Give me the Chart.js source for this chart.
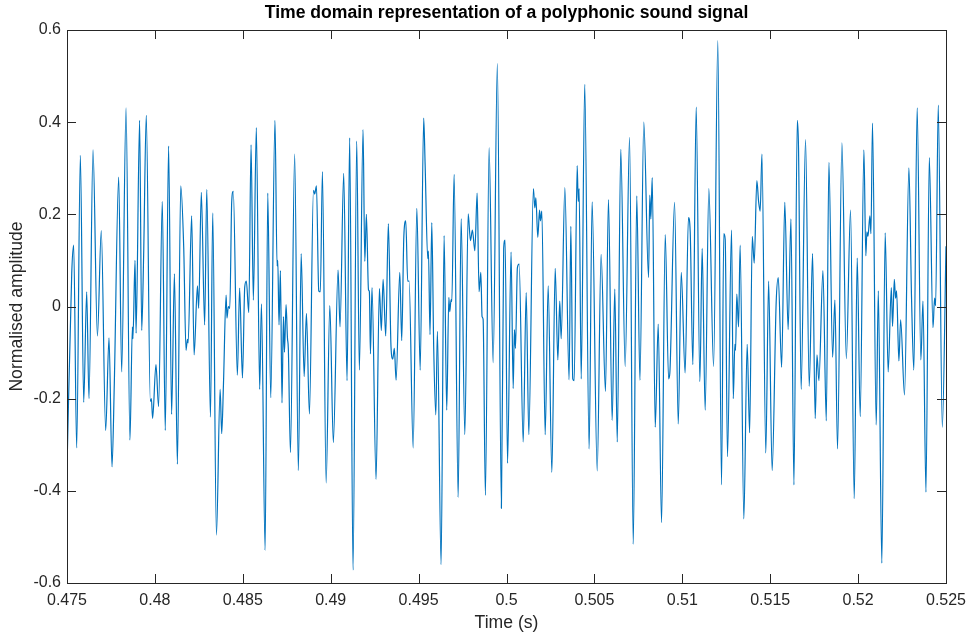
<!DOCTYPE html>
<html>
<head>
<meta charset="utf-8">
<script src="https://cdn.jsdelivr.net/npm/chart.js@4/dist/chart.umd.min.js"></script>
<style>
  html, body { margin: 0; padding: 0; background: #fff; }
  #wrap { width: 969px; height: 634px; }
</style>
</head>
<body>
<div id="wrap"><canvas id="sinal" width="969" height="634"></canvas></div>
<script>
// turning points (time in s, normalised amplitude)
const times = [
    0.47500, 0.47527, 0.47538, 0.47555, 0.47576, 0.47595, 0.47612, 0.47625, 0.47648, 0.47673,
    0.47695, 0.47720, 0.47739, 0.47756, 0.47769, 0.47794, 0.47811, 0.47836, 0.47858, 0.47872,
    0.47875, 0.47887, 0.47893, 0.47913, 0.47925, 0.47936, 0.47951, 0.47974, 0.47980, 0.47987,
    0.48006, 0.48021, 0.48042, 0.48059, 0.48078, 0.48095, 0.48111, 0.48128, 0.48147, 0.48164,
    0.48177, 0.48185, 0.48189, 0.48209, 0.48223, 0.48242, 0.48249, 0.48264, 0.48283, 0.48295,
    0.48316, 0.48329, 0.48350, 0.48371, 0.48380, 0.48390, 0.48405, 0.48410, 0.48418, 0.48426,
    0.48437, 0.48446, 0.48469, 0.48482, 0.48498, 0.48511, 0.48520, 0.48534, 0.48547, 0.48560,
    0.48577, 0.48596, 0.48606, 0.48627, 0.48642, 0.48659, 0.48683, 0.48695, 0.48699, 0.48706,
    0.48714, 0.48723, 0.48731, 0.48737, 0.48746, 0.48754, 0.48759, 0.48771, 0.48795, 0.48816,
    0.48832, 0.48849, 0.48862, 0.48879, 0.48902, 0.48909, 0.48919, 0.48932, 0.48941, 0.48953,
    0.48974, 0.48995, 0.49015, 0.49042, 0.49053, 0.49074, 0.49093, 0.49108, 0.49127, 0.49148,
    0.49163, 0.49184, 0.49194, 0.49203, 0.49215, 0.49220, 0.49226, 0.49235, 0.49258, 0.49277,
    0.49288, 0.49298, 0.49313, 0.49328, 0.49343, 0.49353, 0.49362, 0.49372, 0.49393, 0.49404,
    0.49416, 0.49427, 0.49438, 0.49446, 0.49469, 0.49490, 0.49509, 0.49529, 0.49537, 0.49552,
    0.49556, 0.49565, 0.49575, 0.49586, 0.49598, 0.49607, 0.49628, 0.49645, 0.49660, 0.49672,
    0.49677, 0.49685, 0.49689, 0.49702, 0.49725, 0.49742, 0.49763, 0.49782, 0.49795, 0.49806,
    0.49820, 0.49833, 0.49844, 0.49854, 0.49861, 0.49867, 0.49880, 0.49901, 0.49924, 0.49948,
    0.49971, 0.49984, 0.49992, 0.50006, 0.50026, 0.50038, 0.50045, 0.50051, 0.50062, 0.50072,
    0.50095, 0.50112, 0.50127, 0.50153, 0.50161, 0.50167, 0.50178, 0.50188, 0.50193, 0.50201,
    0.50220, 0.50237, 0.50258, 0.50277, 0.50292, 0.50303, 0.50311, 0.50332, 0.50356, 0.50366,
    0.50377, 0.50385, 0.50402, 0.50408, 0.50413, 0.50425, 0.50445, 0.50470, 0.50487, 0.50516,
    0.50538, 0.50563, 0.50580, 0.50601, 0.50616, 0.50630, 0.50650, 0.50675, 0.50700, 0.50721,
    0.50741, 0.50759, 0.50781, 0.50808, 0.50815, 0.50821, 0.50829, 0.50846, 0.50863, 0.50882,
    0.50903, 0.50922, 0.50929, 0.50956, 0.50977, 0.50994, 0.51016, 0.51035, 0.51045, 0.51060,
    0.51079, 0.51100, 0.51113, 0.51130, 0.51151, 0.51178, 0.51202, 0.51223, 0.51236, 0.51244,
    0.51257, 0.51280, 0.51290, 0.51299, 0.51303, 0.51310, 0.51320, 0.51329, 0.51350, 0.51369,
    0.51383, 0.51398, 0.51409, 0.51424, 0.51434, 0.51443, 0.51453, 0.51475, 0.51491, 0.51511,
    0.51534, 0.51546, 0.51565, 0.51583, 0.51602, 0.51618, 0.51635, 0.51654, 0.51661, 0.51676,
    0.51701, 0.51722, 0.51741, 0.51756, 0.51766, 0.51777, 0.51800, 0.51819, 0.51834, 0.51855,
    0.51868, 0.51883, 0.51908, 0.51933, 0.51957, 0.51978, 0.51995, 0.52012, 0.52033, 0.52044,
    0.52050, 0.52056, 0.52067, 0.52073, 0.52082, 0.52103, 0.52115, 0.52135, 0.52154, 0.52171,
    0.52189, 0.52196, 0.52206, 0.52213, 0.52219, 0.52232, 0.52242, 0.52264, 0.52289, 0.52304,
    0.52317, 0.52336, 0.52357, 0.52369, 0.52386, 0.52405, 0.52426, 0.52435, 0.52441, 0.52456,
    0.52479, 0.52500
];

const amplitude = [
    -0.352, 0.073, 0.133, -0.307, 0.328, -0.208, 0.032, -0.200, 0.340, -0.064,
    0.165, -0.269, -0.068, -0.348, -0.169, 0.281, -0.142, 0.431, -0.290, -0.044,
    -0.070, 0.100, -0.058, 0.404, -0.052, 0.112, 0.415, -0.206, -0.200, -0.243,
    -0.126, -0.217, 0.228, -0.269, 0.348, -0.234, 0.071, -0.342, 0.262, 0.127,
    -0.095, -0.071, -0.079, 0.197, -0.105, 0.045, -0.004, 0.248, -0.040, 0.254,
    -0.240, 0.203, -0.496, -0.180, -0.276, -0.169, 0.025, -0.025, 0.000, -0.004,
    0.228, 0.250, -0.149, 0.040, -0.155, 0.042, 0.055, -0.013, 0.351, 0.014,
    0.388, -0.180, 0.006, -0.529, 0.246, -0.198, 0.404, 0.088, 0.100, -0.040,
    0.078, -0.209, -0.022, -0.099, 0.004, -0.068, -0.091, -0.317, 0.331, -0.356,
    0.115, -0.152, -0.015, -0.233, 0.252, 0.244, 0.262, 0.034, 0.032, 0.293,
    -0.383, 0.002, -0.295, 0.079, -0.044, 0.289, -0.161, 0.366, -0.572, 0.359,
    -0.138, 0.384, 0.098, 0.200, 0.036, 0.032, -0.103, 0.041, -0.375, 0.039,
    -0.052, 0.059, -0.064, 0.180, -0.087, -0.114, -0.091, -0.160, 0.074, -0.074,
    0.152, 0.186, 0.055, 0.055, -0.307, 0.213, -0.138, 0.409, 0.310, 0.104,
    0.120, -0.061, 0.182, -0.091, -0.235, -0.054, -0.560, 0.154, -0.225, 0.020,
    -0.011, 0.015, 0.011, 0.287, -0.414, 0.191, -0.278, 0.201, 0.143, 0.166,
    0.121, 0.246, 0.032, 0.074, -0.022, -0.028, -0.410, 0.345, -0.122, 0.527,
    -0.438, 0.126, 0.144, -0.340, 0.118, -0.178, -0.050, -0.091, 0.084, 0.092,
    -0.294, 0.030, -0.278, 0.256, 0.214, 0.236, 0.150, 0.209, 0.186, 0.207,
    -0.278, 0.045, -0.360, 0.083, -0.116, 0.012, -0.070, 0.258, -0.159, 0.174,
    -0.157, -0.161, 0.306, 0.228, 0.256, -0.157, 0.482, -0.309, 0.227, -0.357,
    0.113, -0.184, 0.232, -0.247, 0.038, -0.294, 0.341, -0.130, 0.367, -0.516,
    0.240, -0.160, 0.400, 0.063, 0.242, 0.190, 0.280, -0.262, -0.038, -0.469,
    0.156, -0.157, -0.145, 0.226, -0.255, 0.074, -0.144, 0.193, 0.162, -0.126,
    0.433, -0.163, 0.126, -0.225, 0.256, -0.130, 0.577, -0.387, 0.158, 0.146,
    -0.326, 0.166, -0.200, -0.082, -0.095, 0.027, -0.044, 0.133, -0.461, -0.082,
    -0.274, 0.152, 0.094, 0.273, 0.228, 0.207, 0.331, -0.318, 0.055, -0.356,
    0.009, 0.063, -0.132, 0.226, -0.050, 0.190, -0.387, 0.404, 0.345, -0.180,
    0.362, -0.173, 0.115, -0.243, -0.105, -0.161, 0.078, -0.248, 0.313, -0.110,
    0.014, -0.309, 0.355, -0.113, 0.209, -0.417, 0.105, -0.239, 0.340, 0.110,
    0.162, 0.152, 0.197, 0.158, 0.398, -0.257, 0.034, -0.557, 0.160, -0.142,
    0.041, -0.043, 0.059, 0.018, 0.034, -0.118, -0.029, -0.192, 0.301, 0.018,
    -0.138, 0.431, -0.116, 0.012, -0.403, 0.323, -0.046, 0.018, 0.002, 0.437,
    -0.262, 0.131
];

const xTicks = [0.475, 0.48, 0.485, 0.49, 0.495, 0.5, 0.505, 0.51, 0.515, 0.52, 0.525];
const yTicks = [-0.6, -0.4, -0.2, 0, 0.2, 0.4, 0.6];

const corEixo = '#262626';
const fonte = "'Liberation Sans', Arial, Helvetica, sans-serif";

// box round the axes with ticks pointing inwards on all four sides
const caixaComTicks = {
    id: 'caixaComTicks',
    afterDatasetsDraw(chart) {
        const { ctx, chartArea: a, scales: { x, y } } = chart;
        const len = 9;
        ctx.save();
        ctx.strokeStyle = corEixo;
        ctx.lineWidth = 1;
        ctx.beginPath();
        x.ticks.forEach(t => {
            const px = Math.round(x.getPixelForValue(t.value)) + 0.5;
            ctx.moveTo(px, a.bottom);
            ctx.lineTo(px, a.bottom - len);
            ctx.moveTo(px, a.top);
            ctx.lineTo(px, a.top + len);
        });
        y.ticks.forEach(t => {
            const py = Math.round(y.getPixelForValue(t.value)) + 0.5;
            ctx.moveTo(a.left, py);
            ctx.lineTo(a.left + len, py);
            ctx.moveTo(a.right, py);
            ctx.lineTo(a.right - len, py);
        });
        ctx.stroke();
        ctx.strokeRect(Math.round(a.left) + 0.5, Math.round(a.top) + 0.5,
            Math.round(a.right) - Math.round(a.left), Math.round(a.bottom) - Math.round(a.top));
        ctx.restore();
    }
};

const ctxSinal = document.getElementById('sinal').getContext('2d');

new Chart(ctxSinal, {
    type: 'line',
    data: {
        datasets: [{
            label: 'sinal',
            data: times.map((t, i) => ({ x: t, y: amplitude[i] })),
            borderColor: '#0072BD',
            borderWidth: 1.2,
            pointRadius: 0,
            cubicInterpolationMode: 'monotone',
            fill: false
        }]
    },
    options: {
        responsive: false,
        animation: false,
        layout: {
            padding: { left: 0, right: 23, top: 0, bottom: 0 }
        },
        plugins: {
            legend: { display: false },
            tooltip: { enabled: false },
            title: {
                display: true,
                fullSize: false,
                text: 'Time domain representation of a polyphonic sound signal',
                color: '#000',
                font: { family: fonte, size: 17.6, weight: 'bold' },
                padding: { top: 3, bottom: 5.9 }
            }
        },
        scales: {
            x: {
                type: 'linear',
                min: 0.475,
                max: 0.525,
                afterBuildTicks: scale => { scale.ticks = xTicks.map(v => ({ value: v })); },
                afterFit: scale => {
                    scale.height = 51;
                    scale.paddingLeft = 0;
                    scale.paddingRight = 0;
                },
                grid: { display: false, drawTicks: false },
                border: { display: false },
                ticks: {
                    color: corEixo,
                    padding: 8,
                    maxRotation: 0,
                    autoSkip: false,
                    font: { family: fonte, size: 16 },
                    callback: value => String(+value.toFixed(3))
                },
                title: {
                    display: true,
                    text: 'Time (s)',
                    color: corEixo,
                    font: { family: fonte, size: 17.6 },
                    padding: { top: 0, bottom: 0 }
                }
            },
            y: {
                min: -0.6,
                max: 0.6,
                afterBuildTicks: scale => { scale.ticks = yTicks.map(v => ({ value: v })); },
                afterFit: scale => { scale.width = 67; },
                grid: { display: false, drawTicks: false },
                border: { display: false },
                ticks: {
                    color: corEixo,
                    padding: 6,
                    autoSkip: false,
                    font: { family: fonte, size: 16 },
                    callback: value => String(+value.toFixed(1))
                },
                title: {
                    display: true,
                    text: 'Normalised amplitude',
                    color: corEixo,
                    font: { family: fonte, size: 17.6 },
                    padding: { top: 6.5, bottom: 0 }
                }
            }
        }
    },
    plugins: [caixaComTicks]
});
</script>
</body>
</html>
